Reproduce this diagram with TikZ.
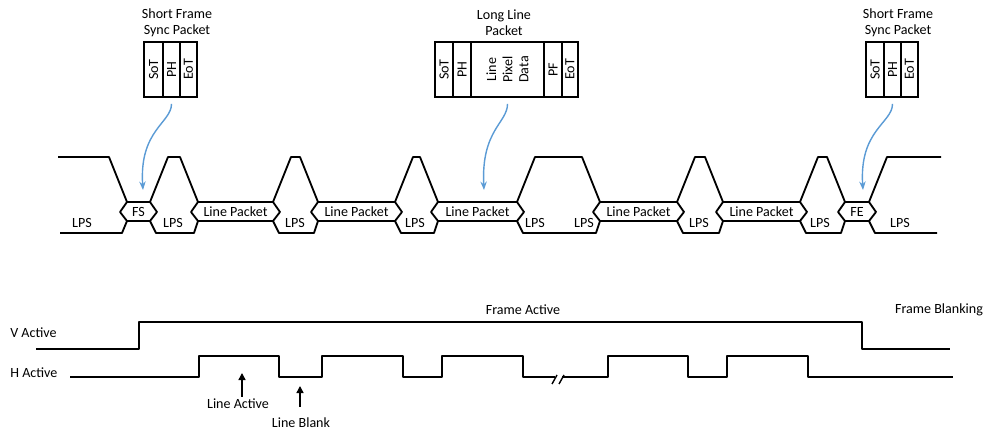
\documentclass[tikz,border=0pt]{standalone}
\usepackage{fontspec}
\setmainfont{Carlito}
\usetikzlibrary{arrows.meta}
\definecolor{pktblue}{RGB}{91,155,213}

\begin{document}
\begin{tikzpicture}[x=0.25mm, y=-0.25mm, line width=1.3pt,
        txt/.style={font=\fontsize{10}{11.5}\selectfont, inner sep=1pt, align=center},
        cell/.style={draw, rotate=90, minimum width=13.75mm, minimum height=4.25mm, inner sep=0pt,
            font=\fontsize{10}{11.5}\selectfont, align=center},
        wave/.style={line join=round},
        syncarrow/.style={draw=pktblue, line width=1pt, shorten <=1.5mm, -{Stealth[length=6pt, width=4.5pt]}},
        uparrow/.style={line width=1pt, -{Triangle[length=5pt, width=5pt]}}]
        \useasboundingbox (0,0) rectangle (988,435);

        % packet boxes
        \node[txt] (sflTitle) at (177,23){Short Frame\\Sync Packet};
        \node[cell, minimum height=4.75mm] (sflSoT) at (153.5,69.5){SoT};
        \node[cell] (sflPH) at (171.5,69.5){PH};
        \node[cell] (sflEoT) at (188.5,69.5){EoT};

        \node[txt] (llTitle) at (504,23){Long Line\\Packet};
        \node[cell, minimum height=4.5mm] (llSoT) at (444,69.5){SoT};
        \node[cell, minimum height=4.5mm] (llPH) at (462,69.5){PH};
        \node[cell, minimum height=18.25mm] (llData) at (507.5,69.5){Line\\Pixel\\Data};
        \node[cell, minimum height=4.5mm] (llPF) at (553,69.5){PF};
        \node[cell, minimum height=4mm] (llEoT) at (570,69.5){EoT};

        \node[txt] (sfrTitle) at (898,23){Short Frame\\Sync Packet};
        \node[cell, minimum height=4.5mm] (sfrSoT) at (875,69.5){SoT};
        \node[cell] (sfrPH) at (892.5,69.5){PH};
        \node[cell] (sfrEoT) at (909.5,69.5){EoT};

        % waveform
        \draw[wave] (58,157) -- (109,157) -- (127,202) -- (150,202) -- (168,157) -- (180,157)
            -- (198,202) -- (273,202) -- (291,157) -- (300,157) -- (318,202) -- (395,202)
            -- (413,157) -- (420,157) -- (438,202) -- (517,202) -- (535,157) -- (582,157)
            -- (600,202) -- (677,202) -- (695,157) -- (705,157) -- (723,202) -- (800,202)
            -- (818,157) -- (827,157) -- (845,202) -- (869,202) -- (887,157) -- (941,157);
        \draw[wave] (60,233) -- (122,233) -- (127,221) -- (150,221) -- (156,233) -- (194,233)
            -- (198,221) -- (273,221) -- (279,233) -- (314,233) -- (318,221) -- (395,221)
            -- (401,233) -- (434,233) -- (438,221) -- (517,221) -- (523,233) -- (596,233)
            -- (600,221) -- (677,221) -- (683,233) -- (719,233) -- (723,221) -- (800,221)
            -- (806,233) -- (841,233) -- (845,221) -- (869,221) -- (875,233) -- (937,233);

        % packet ends
        \draw[wave] (127,202) -- (120,212) -- (127,221);
        \draw[wave] (150,202) -- (157,212) -- (150,221);
        \draw[wave] (198,202) -- (191,212) -- (198,221);
        \draw[wave] (273,202) -- (280,212) -- (273,221);
        \draw[wave] (318,202) -- (311,212) -- (318,221);
        \draw[wave] (395,202) -- (402,212) -- (395,221);
        \draw[wave] (438,202) -- (431,212) -- (438,221);
        \draw[wave] (517,202) -- (524,212) -- (517,221);
        \draw[wave] (600,202) -- (593,212) -- (600,221);
        \draw[wave] (677,202) -- (684,212) -- (677,221);
        \draw[wave] (723,202) -- (716,212) -- (723,221);
        \draw[wave] (800,202) -- (807,212) -- (800,221);
        \draw[wave] (845,202) -- (838,212) -- (845,221);
        \draw[wave] (869,202) -- (876,212) -- (869,221);

        % packet names
        \node[txt] (fs) at (138.5,212){FS};
        \node[txt] (lp1) at (235.5,212){Line Packet};
        \node[txt] (lp2) at (356.5,212){Line Packet};
        \node[txt] (lp3) at (477.5,212){Line Packet};
        \node[txt] (lp4) at (638.5,212){Line Packet};
        \node[txt] (lp5) at (761.5,212){Line Packet};
        \node[txt] (fe) at (857,212){FE};

        % lps
        \node[txt] (lps1) at (82,223){LPS};
        \node[txt] (lps2) at (173,223){LPS};
        \node[txt] (lps3) at (295,223){LPS};
        \node[txt] (lps4) at (415,223){LPS};
        \node[txt] (lps5) at (535,223){LPS};
        \node[txt] (lps6) at (584,223){LPS};
        \node[txt] (lps7) at (699,223){LPS};
        \node[txt] (lps8) at (820,223){LPS};
        \node[txt] (lps9) at (900,223){LPS};

        % blue arrows
        \coordinate (fsIn) at (143,190);
        \coordinate (lp3In) at (484,190);
        \coordinate (feIn) at (863,190);
        \draw[syncarrow] (sflPH.west) .. controls +(0,25) and +(-4,-60) .. (fsIn);
        \draw[syncarrow] (llData.west) .. controls +(0,25) and +(-3,-60) .. (lp3In);
        \draw[syncarrow] (sfrPH.west) .. controls +(0,25) and +(-4,-60) .. (feIn);

        % timing
        \node[txt, anchor = west] (vact) at (8,333){V Active};
        \node[txt, anchor = west] (hact) at (8,373){H Active};
        \node[txt] (fact) at (523,310){Frame Active};
        \node[txt] (fblank) at (939,310){Frame Blanking};
        \draw[wave] (36,349) -- (139,349) -- (139,322) -- (862,322) -- (862,349) -- (950,349);
        \draw[wave] (70,377) -- (199,377) -- (199,356) -- (279,356) -- (279,377) -- (322,377)
            -- (322,356) -- (403,356) -- (403,377) -- (442,377) -- (442,356) -- (523,356)
            -- (523,377) -- (555,377);
        \draw[wave] (562,377) -- (608,377) -- (608,356) -- (688,356) -- (688,377) -- (727,377)
            -- (727,356) -- (808,356) -- (808,377) -- (953,377);
        \draw[line width=1.8pt] (413,377) -- (432,377);
        \draw[line width=1.8pt] (698,377) -- (717,377);
        % break
        \draw[line width=1pt] (552,384) -- (557,375);
        \draw[line width=1pt] (559,384) -- (564,375);

        % line active / blank
        \node[txt] (la) at (238,404){Line Active};
        \node[txt] (lb) at (301,423){Line Blank};
        \coordinate (laTip) at (242,373);
        \coordinate (lbTip) at (300,386);
        \draw[uparrow] (laTip |- la.north) -- (laTip);
        \draw[uparrow, shorten <=2.3mm] (lbTip |- lb.north) -- (lbTip);
    \end{tikzpicture}
\end{document}
